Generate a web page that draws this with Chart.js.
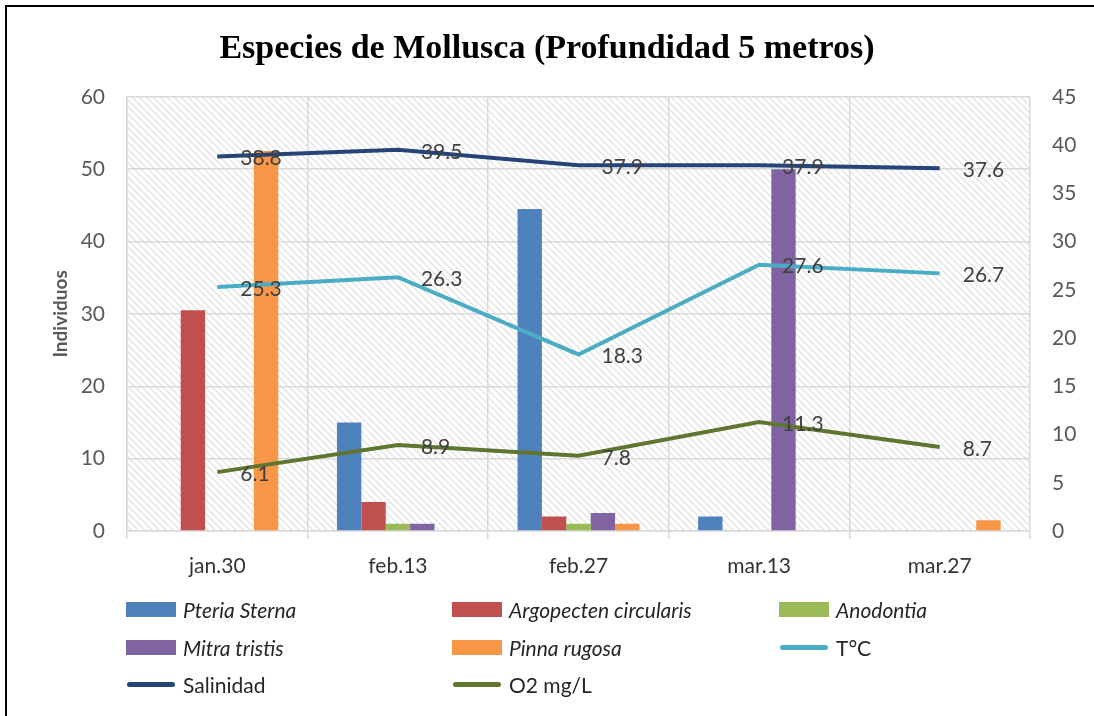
<!DOCTYPE html>
<html>
<head>
<meta charset="utf-8">
<script src="https://cdn.jsdelivr.net/npm/chart.js@4.4.1/dist/chart.umd.min.js"></script>
<style>
body { margin: 0; background: #fff; }
#wrap { position: relative; width: 1094px; height: 716px; overflow: hidden; }
#frame { position: absolute; left: 5px; top: 5px; width: 1200px; height: 800px; border-left: 2px solid #000; border-top: 2px solid #000; }
#myChart { position: absolute; left: 0; top: 0; }
#legend { position: absolute; left: 126px; top: 591px; display: grid; grid-template-columns: 326px 327px 290px; grid-auto-rows: 37.5px; font-family: Lato, sans-serif; font-size: 21px; color: #262626; }
.item { display: flex; align-items: center; }
.box { width: 50px; height: 15px; margin-right: 7px; }
.line { width: 48px; height: 5px; border-radius: 3px; margin: 0 8px 0 1px; }
</style>
</head>
<body>
<div id="wrap">
  <div id="frame"></div>
  <canvas id="myChart" width="1094" height="716"></canvas>
  <div id="legend"></div>
</div>
<script>
const labels = ['jan.30', 'feb.13', 'feb.27', 'mar.13', 'mar.27'];
const pteriaSterna = [0, 15, 44.5, 2, 0];
const argopecten = [30.5, 4, 2, 0, 0];
const anodontia = [0, 1, 1, 0, 0];
const mitraTristis = [0, 1, 2.5, 50, 0];
const pinnaRugosa = [52.5, 0, 1, 0, 1.5];
const temperatura = [25.3, 26.3, 18.3, 27.6, 26.7];
const salinidad = [38.8, 39.5, 37.9, 37.9, 37.6];
const oxigeno = [6.1, 8.9, 7.8, 11.3, 8.7];

// striped background of the plot area
const hatch = {
    id: 'hatch',
    beforeDraw(chart) {
        const { ctx, chartArea: a } = chart;
        const tile = document.createElement('canvas');
        tile.width = 7;
        tile.height = 7;
        const t = tile.getContext('2d');
        t.fillStyle = '#fff';
        t.fillRect(0, 0, 7, 7);
        t.strokeStyle = '#dedede';
        t.lineWidth = 1.2;
        t.beginPath();
        t.moveTo(-1, -1); t.lineTo(8, 8);
        t.moveTo(-1, 6); t.lineTo(1, 8);
        t.moveTo(6, -1); t.lineTo(8, 1);
        t.stroke();
        ctx.save();
        ctx.fillStyle = ctx.createPattern(tile, 'repeat');
        ctx.fillRect(a.left, a.top, a.right - a.left, a.bottom - a.top);
        ctx.restore();
    }
};

// value labels right of each line point
const lineLabels = {
    id: 'lineLabels',
    afterDatasetsDraw(chart) {
        const ctx = chart.ctx;
        ctx.save();
        ctx.font = '21px Lato';
        ctx.fillStyle = '#404040';
        ctx.textBaseline = 'middle';
        chart.data.datasets.forEach((ds, i) => {
            if (ds.type !== 'line') return;
            chart.getDatasetMeta(i).data.forEach((pt, j) => {
                ctx.fillText(ds.data[j].toFixed(1), pt.x + 23, pt.y + 2);
            });
        });
        ctx.restore();
    }
};

const bar = (label, data, color) => ({
    type: 'bar', label: label, data: data, backgroundColor: color,
    yAxisID: 'y', order: 1, categoryPercentage: 0.675, barPercentage: 1
});
const line = (label, data, color) => ({
    type: 'line', label: label, data: data, borderColor: color, backgroundColor: color,
    yAxisID: 'y1', order: 0, borderWidth: 4, pointRadius: 0, tension: 0
});

const ctx = document.getElementById('myChart');
const chart = new Chart(ctx, {
    data: {
        labels: labels,
        datasets: [
            bar('Pteria Sterna', pteriaSterna, '#4f81bd'),
            bar('Argopecten circularis', argopecten, '#c0504d'),
            bar('Anodontia', anodontia, '#9bbb59'),
            bar('Mitra tristis', mitraTristis, '#8064a2'),
            bar('Pinna rugosa', pinnaRugosa, '#f79646'),
            line('T°C', temperatura, '#4bacc6'),
            line('Salinidad', salinidad, '#264478'),
            line('O2 mg/L', oxigeno, '#5f7530')
        ]
    },
    options: {
        responsive: false,
        animation: false,
        layout: { padding: { left: 0, right: 0, top: 0, bottom: 125 } },
        plugins: {
            legend: { display: false },
            tooltip: { enabled: false },
            title: {
                display: true,
                text: 'Especies de Mollusca (Profundidad 5 metros)',
                color: '#000',
                font: { family: 'Liberation Serif', size: 34, weight: 'bold' },
                padding: { top: 29, bottom: 27 }
            }
        },
        scales: {
            x: {
                grid: { color: '#d9d9d9', lineWidth: 1.5, offset: true, tickLength: 8 },
                border: { color: '#d9d9d9', width: 1.5 },
                ticks: { color: '#333333', font: { family: 'Lato', size: 21 }, padding: 15 },
                afterFit: (s) => { s.height = 60; }
            },
            y: {
                position: 'left',
                min: 0, max: 60,
                ticks: { stepSize: 10, color: '#595959', font: { family: 'Lato', size: 21 }, padding: 22 },
                grid: { color: '#d9d9d9', lineWidth: 1.5, drawTicks: false },
                border: { color: '#d9d9d9', width: 1.5 },
                title: {
                    display: true, text: 'Individuos', color: '#595959',
                    font: { family: 'Lato', size: 19, weight: 'bold' },
                    padding: { top: 49 }
                },
                afterFit: (s) => { s.width = 127; }
            },
            y1: {
                position: 'right',
                min: 0, max: 45,
                ticks: { stepSize: 5, color: '#595959', font: { family: 'Lato', size: 21 }, padding: 22 },
                grid: { drawOnChartArea: false, drawTicks: false },
                border: { display: false },
                afterFit: (s) => { s.width = 64; }
            }
        }
    },
    plugins: [hatch, lineLabels]
});

// legend in three columns, built from the datasets
const legend = document.getElementById('legend');
chart.data.datasets.forEach((ds) => {
    const item = document.createElement('div');
    item.className = 'item';
    const sw = document.createElement('span');
    sw.className = ds.type === 'bar' ? 'box' : 'line';
    sw.style.background = ds.type === 'bar' ? ds.backgroundColor : ds.borderColor;
    const txt = document.createElement('span');
    txt.textContent = ds.label;
    if (ds.type === 'bar') txt.style.fontStyle = 'italic';
    item.appendChild(sw);
    item.appendChild(txt);
    legend.appendChild(item);
});
</script>
</body>
</html>
